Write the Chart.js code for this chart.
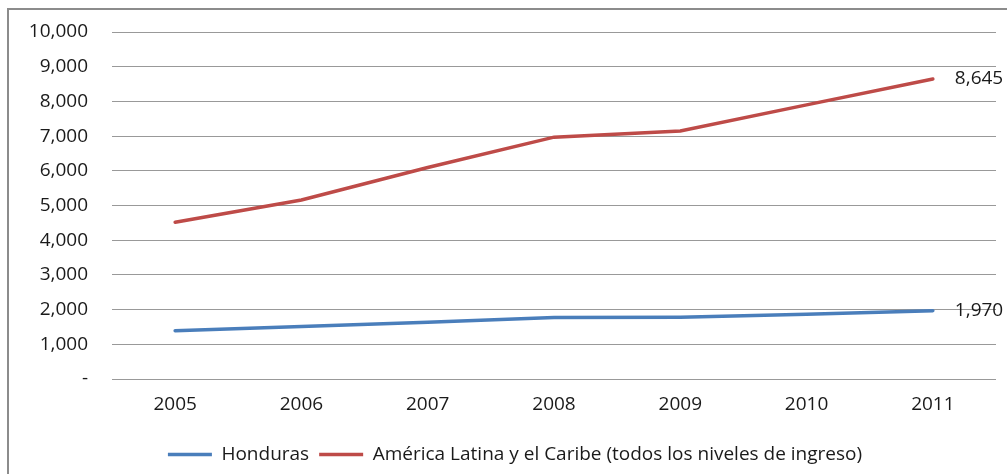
<!DOCTYPE html>
<html>
<head>
<meta charset="utf-8">
<script src="https://cdn.jsdelivr.net/npm/chart.js@4/dist/chart.umd.min.js"></script>
<style>
  body { margin: 0; background: #fff; overflow: hidden; }
  #wrap { position: relative; width: 1007px; height: 474px; }
  #frame { position: absolute; left: 7px; top: 8px; width: 1010px; height: 480px; border: 2px solid #8c8c8c; box-sizing: border-box; }
  #chartBox { position: absolute; left: 0; top: 0; width: 1007px; height: 474px; }
</style>
</head>
<body>
<div id="wrap">
  <div id="frame"></div>
  <div id="chartBox"><canvas id="myChart" width="1007" height="474"></canvas></div>
</div>
<script>
var years = ['2005', '2006', '2007', '2008', '2009', '2010', '2011'];
var honduras = [1390, 1510, 1635, 1770, 1780, 1865, 1970];
var latam = [4520, 5160, 6095, 6970, 7150, 7900, 8645];
var seriesNames = ['Honduras', 'América Latina y el Caribe (todos los niveles de ingreso)'];

Chart.defaults.font.family = "'Open Sans', sans-serif";
Chart.defaults.font.size = 19;
Chart.defaults.color = '#1a1a1a';

function fmt(v) {
	return v.toLocaleString('en-US');
}

// label next to the last point of each line
var endLabels = {
	id: 'endLabels',
	afterDatasetsDraw: function(chart) {
		var ctx = chart.ctx;
		ctx.save();
		ctx.font = "19px 'Open Sans', sans-serif";
		ctx.fillStyle = '#1a1a1a';
		ctx.textBaseline = 'middle';
		ctx.textAlign = 'left';
		chart.data.datasets.forEach(function(ds, i) {
			var meta = chart.getDatasetMeta(i);
			var last = meta.data[meta.data.length - 1];
			ctx.fillText(fmt(ds.data[ds.data.length - 1]), last.x + 22, last.y);
		});
		ctx.restore();
	}
};

// nudge the legend a bit to the right, like the original
var legendShift = {
	id: 'legendShift',
	afterLayout: function(chart) {
		if (chart.legend) {
			chart.legend.left += 17;
			chart.legend.right += 17;
		}
	}
};

var ctx = document.getElementById('myChart');
var lineChart = new Chart(ctx, {
	type: 'line',
	data: {
		labels: years,
		datasets: [
			{
				label: seriesNames[0],
				data: honduras,
				borderColor: '#4A7EBB',
				backgroundColor: '#4A7EBB',
				borderWidth: 3.5,
				borderCapStyle: 'round',
				pointRadius: 0,
				pointStyle: 'line',
				tension: 0
			},
			{
				label: seriesNames[1],
				data: latam,
				borderColor: '#BE4B48',
				backgroundColor: '#BE4B48',
				borderWidth: 3.5,
				borderCapStyle: 'round',
				pointRadius: 0,
				pointStyle: 'line',
				tension: 0
			}
		]
	},
	options: {
		responsive: false,
		animation: false,
		layout: { padding: { left: 0, right: 11, top: 32, bottom: 0 } },
		plugins: {
			tooltip: { enabled: false },
			legend: {
				position: 'bottom',
				labels: {
					usePointStyle: true,
					pointStyleWidth: 44,
					boxHeight: 4,
					padding: 10
				}
			}
		},
		scales: {
			x: {
				offset: true,
				grid: { display: false, drawTicks: false },
				border: { display: false },
				ticks: { padding: 14 },
				afterFit: function(scale) { scale.height = 56; }
			},
			y: {
				min: 0,
				max: 10000,
				grid: { color: '#999999', lineWidth: 1, drawTicks: false },
				border: { display: false },
				ticks: {
					stepSize: 1000,
					padding: 24,
					callback: function(v) { return v === 0 ? '-' : fmt(v); }
				},
				afterFit: function(scale) {
					scale.width = 112;
					scale.paddingTop = 11;
					scale.paddingBottom = 11;
				}
			}
		}
	},
	plugins: [endLabels, legendShift]
});
</script>
</body>
</html>
